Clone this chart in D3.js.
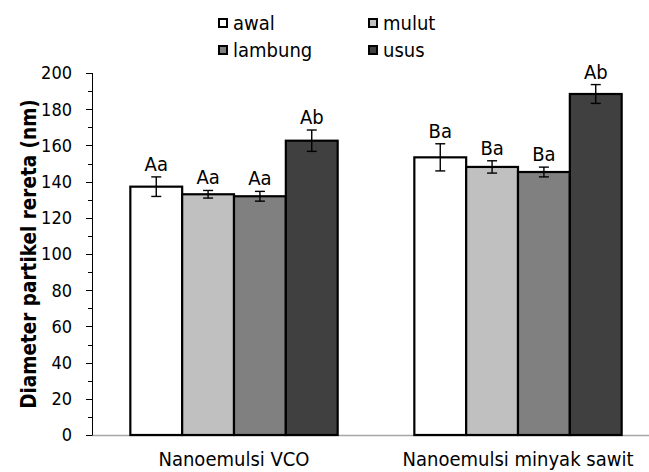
<!DOCTYPE html>
<html>
<head>
<meta charset="utf-8">
<script src="https://cdn.jsdelivr.net/npm/d3@7"></script>
<style>
  html, body { margin: 0; padding: 0; background: #fff; }
  svg { display: block; }
  text { font-family: "DejaVu Sans Condensed", "DejaVu Sans", sans-serif; fill: #000; }
</style>
</head>
<body>
<div id="chart"></div>
<script>
const categories = ['Nanoemulsi VCO', 'Nanoemulsi minyak sawit'];
const seriesNames = ['awal', 'mulut', 'lambung', 'usus'];
const seriesColors = ['#ffffff', '#c0c0c0', '#808080', '#404040'];

// mean diameter per category
const awal = [137.2, 153.4];
const mulut = [133.0, 148.1];
const lambung = [131.9, 145.3];
const usus = [162.6, 188.4];

// error (+/-)
const awalErr = [5.4, 7.5];
const mulutErr = [2.1, 3.4];
const lambungErr = [2.7, 2.7];
const ususErr = [5.9, 5.2];

// significance letters
const awalLbl = ['Aa', 'Ba'];
const mulutLbl = ['Aa', 'Ba'];
const lambungLbl = ['Aa', 'Ba'];
const ususLbl = ['Ab', 'Ab'];

const yTicks = [0, 20, 40, 60, 80, 100, 120, 140, 160, 180, 200];

const values = [awal, mulut, lambung, usus];
const errors = [awalErr, mulutErr, lambungErr, ususErr];
const labels = [awalLbl, mulutLbl, lambungLbl, ususLbl];

const W = 649, H = 472;
const plotLeft = 92, plotBottom = 435, plotTop = 73, plotRight = 660;

const svg = d3.select('#chart').append('svg')
  .attr('width', W)
  .attr('height', H);

const x0 = d3.scaleBand()
  .domain(categories)
  .range([plotLeft, plotRight])
  .paddingInner(0.27)
  .paddingOuter(0.135);

const x1 = d3.scaleBand()
  .domain(seriesNames)
  .range([0, x0.bandwidth()]);

const y = d3.scaleLinear().domain([0, 200]).range([plotBottom, plotTop]);

// flatten into bar records
const bars = [];
categories.forEach((c, ci) => {
  seriesNames.forEach((s, si) => {
    bars.push({
      cat: c, name: s, color: seriesColors[si],
      value: values[si][ci], err: errors[si][ci], label: labels[si][ci],
    });
  });
});

// x axis baseline (gray, runs off to the right)
svg.append('line')
  .attr('x1', plotLeft).attr('x2', W)
  .attr('y1', plotBottom + 0.5).attr('y2', plotBottom + 0.5)
  .attr('stroke', '#a6a6a6')
  .attr('stroke-width', 1.5);

// bars
svg.append('g').selectAll('rect')
  .data(bars)
  .join('rect')
  .attr('x', (d) => x0(d.cat) + x1(d.name))
  .attr('y', (d) => y(d.value))
  .attr('width', x1.bandwidth())
  .attr('height', (d) => y(0) - y(d.value))
  .attr('fill', (d) => d.color)
  .attr('stroke', '#000')
  .attr('stroke-width', 2.2);

// error bars
const eb = svg.append('g')
  .attr('stroke', '#000')
  .attr('stroke-width', 1.4);
const cx = (d) => x0(d.cat) + x1(d.name) + x1.bandwidth() / 2;
eb.selectAll('.v')
  .data(bars)
  .join('line')
  .attr('x1', cx).attr('x2', cx)
  .attr('y1', (d) => y(d.value + d.err))
  .attr('y2', (d) => y(d.value - d.err));
eb.selectAll('.t')
  .data(bars)
  .join('line')
  .attr('x1', (d) => cx(d) - 5).attr('x2', (d) => cx(d) + 5)
  .attr('y1', (d) => y(d.value + d.err))
  .attr('y2', (d) => y(d.value + d.err));
eb.selectAll('.b')
  .data(bars)
  .join('line')
  .attr('x1', (d) => cx(d) - 5).attr('x2', (d) => cx(d) + 5)
  .attr('y1', (d) => y(d.value - d.err))
  .attr('y2', (d) => y(d.value - d.err));

// letters above bars
svg.append('g').selectAll('text')
  .data(bars)
  .join('text')
  .attr('x', cx)
  .attr('y', (d) => y(d.value + d.err) - 6)
  .attr('text-anchor', 'middle')
  .attr('font-size', '20px')
  .text((d) => d.label);

// y axis with minor ticks
const minor = d3.range(0, 201, 10).filter((v) => v % 20 !== 0);
const yAxis = svg.append('g').attr('transform', `translate(${plotLeft},0)`);
yAxis.append('line')
  .attr('x1', 0.5).attr('x2', 0.5)
  .attr('y1', y(200)).attr('y2', y(0))
  .attr('stroke', '#000');
yAxis.selectAll('.major')
  .data(yTicks)
  .join('line')
  .attr('x1', -6).attr('x2', 0.5)
  .attr('y1', (d) => Math.round(y(d)) + 0.5)
  .attr('y2', (d) => Math.round(y(d)) + 0.5)
  .attr('stroke', '#000');
yAxis.selectAll('.minor')
  .data(minor)
  .join('line')
  .attr('x1', -4).attr('x2', 0.5)
  .attr('y1', (d) => Math.round(y(d)) + 0.5)
  .attr('y2', (d) => Math.round(y(d)) + 0.5)
  .attr('stroke', '#000');
yAxis.selectAll('text')
  .data(yTicks)
  .join('text')
  .attr('x', -20)
  .attr('y', (d) => y(d))
  .attr('dy', '0.36em')
  .attr('text-anchor', 'end')
  .attr('font-size', '18px')
  .text((d) => d);

// y title
svg.append('text')
  .attr('transform', `translate(36,${(y(0) + y(200)) / 2}) rotate(-90)`)
  .attr('text-anchor', 'middle')
  .attr('font-family', 'DejaVu Sans')
  .attr('font-weight', 'bold')
  .attr('font-size', '20.5px')
  .text('Diameter partikel rereta (nm)');

// category labels
svg.append('g').selectAll('text')
  .data(categories)
  .join('text')
  .attr('x', (d) => x0(d) + x0.bandwidth() / 2)
  .attr('y', 466)
  .attr('text-anchor', 'middle')
  .attr('font-size', '20px')
  .text((d) => d);

// legend, 2 x 2
const legend = svg.append('g');
const legendPos = [[218, 23], [368, 23], [218, 50], [368, 50]];
seriesNames.forEach((s, i) => {
  const [lx, ly] = legendPos[i];
  legend.append('rect')
    .attr('x', lx + 1).attr('y', ly - 4)
    .attr('width', 8).attr('height', 8)
    .attr('fill', seriesColors[i])
    .attr('stroke', '#000')
    .attr('stroke-width', 2);
  legend.append('text')
    .attr('x', lx + 15)
    .attr('y', ly + 7)
    .attr('font-size', '20px')
    .text(s);
});
</script>
</body>
</html>
